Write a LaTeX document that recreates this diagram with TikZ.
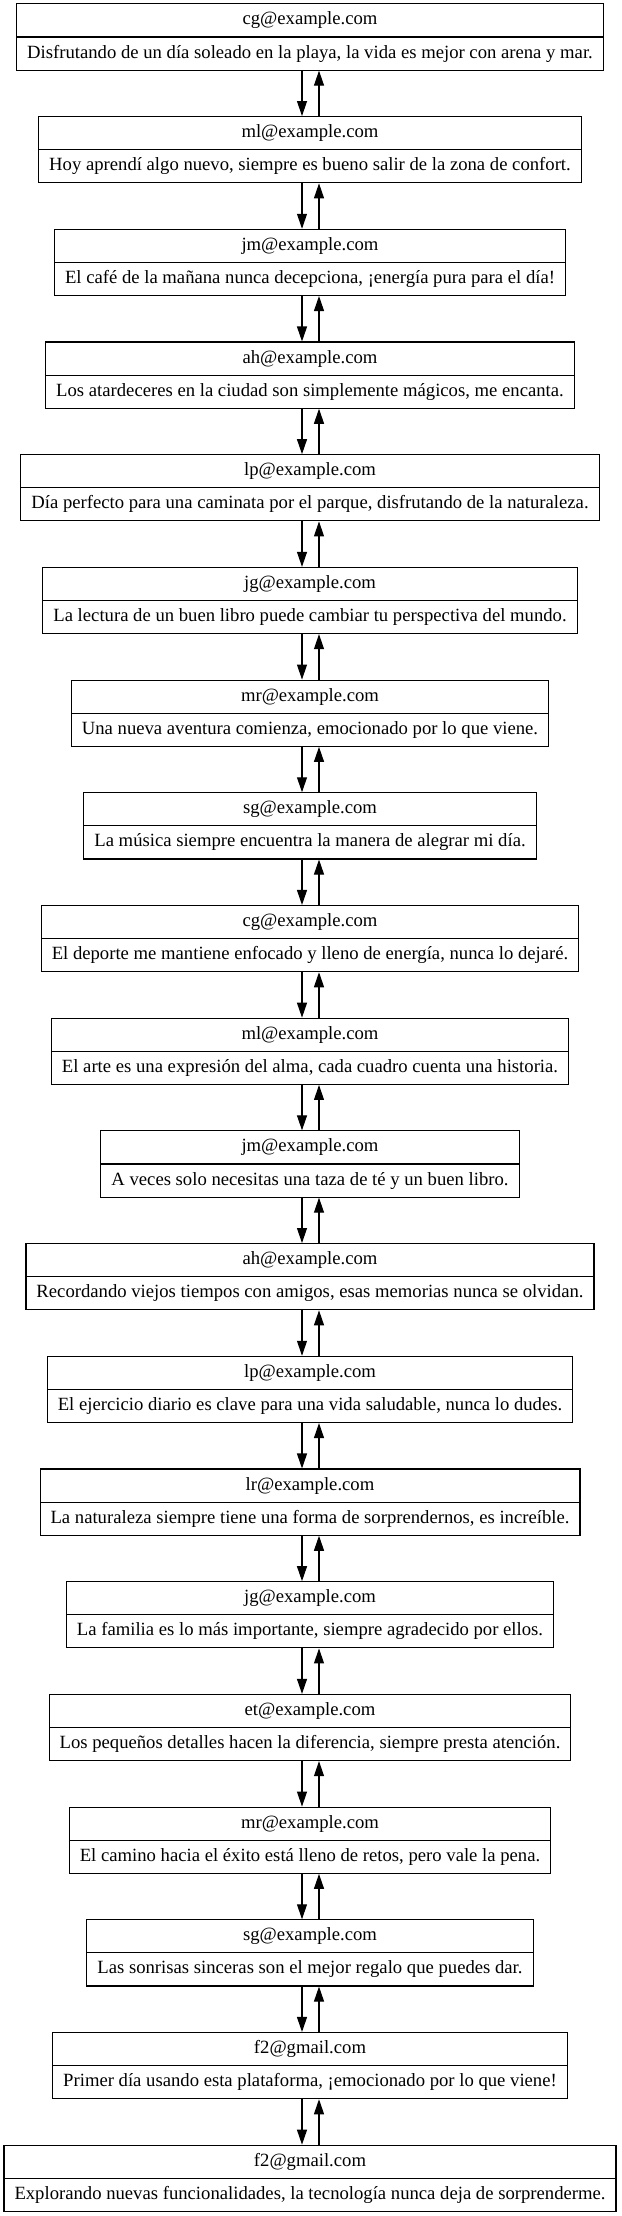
\documentclass[tikz,border=0pt]{standalone}
\usepackage{fontspec}
\setmainfont{Liberation Serif}
\usetikzlibrary{arrows.meta,shapes.multipart}
\newcommand\rowstrut{\vrule height 14pt depth 5pt width 0pt}
\tikzset{
  post/.style={draw, line width=1.1pt, rectangle split, rectangle split parts=2,
    inner xsep=10.5pt, inner ysep=6.5pt, font=\fontsize{18.67}{22}\selectfont},
  reply/.style={line width=1.1pt, -{Triangle[length=15pt,width=10pt]}}
}
\begin{document}
\begin{tikzpicture}[x=1pt, y=1pt]
  \useasboundingbox (0,0) rectangle (621,-2216);
  \foreach \mail/\msg [count=\i from 0] in {
      cg@example.com/{Disfrutando de un día soleado en la playa, la vida es mejor con arena y mar.},
      ml@example.com/{Hoy aprendí algo nuevo, siempre es bueno salir de la zona de confort.},
      jm@example.com/{El café de la mañana nunca decepciona, ¡energía pura para el día!},
      ah@example.com/{Los atardeceres en la ciudad son simplemente mágicos, me encanta.},
      lp@example.com/{Día perfecto para una caminata por el parque, disfrutando de la naturaleza.},
      jg@example.com/{La lectura de un buen libro puede cambiar tu perspectiva del mundo.},
      mr@example.com/{Una nueva aventura comienza, emocionado por lo que viene.},
      sg@example.com/{La música siempre encuentra la manera de alegrar mi día.},
      cg@example.com/{El deporte me mantiene enfocado y lleno de energía, nunca lo dejaré.},
      ml@example.com/{El arte es una expresión del alma, cada cuadro cuenta una historia.},
      jm@example.com/{A veces solo necesitas una taza de té y un buen libro.},
      ah@example.com/{Recordando viejos tiempos con amigos, esas memorias nunca se olvidan.},
      lp@example.com/{El ejercicio diario es clave para una vida saludable, nunca lo dudes.},
      lr@example.com/{La naturaleza siempre tiene una forma de sorprendernos, es increíble.},
      jg@example.com/{La familia es lo más importante, siempre agradecido por ellos.},
      et@example.com/{Los pequeños detalles hacen la diferencia, siempre presta atención.},
      mr@example.com/{El camino hacia el éxito está lleno de retos, pero vale la pena.},
      sg@example.com/{Las sonrisas sinceras son el mejor regalo que puedes dar.},
      f2@gmail.com/{Primer día usando esta plataforma, ¡emocionado por lo que viene!},
      f2@gmail.com/{Explorando nuevas funcionalidades, la tecnología nunca deja de sorprenderme.}}
    \node[post] (p\i) at (310,{-37-112.7*\i}) {\rowstrut\mail\nodepart{two}\rowstrut\msg};
  \foreach \i [evaluate=\i as \j using int(\i+1)] in {0,...,18} {
    \draw[reply] ([xshift=-8pt]p\i.south) -- ([xshift=-8pt]p\j.north);
    \draw[reply] ([xshift=9pt]p\j.north) -- ([xshift=9pt]p\i.south);
  }
\end{tikzpicture}
\end{document}
